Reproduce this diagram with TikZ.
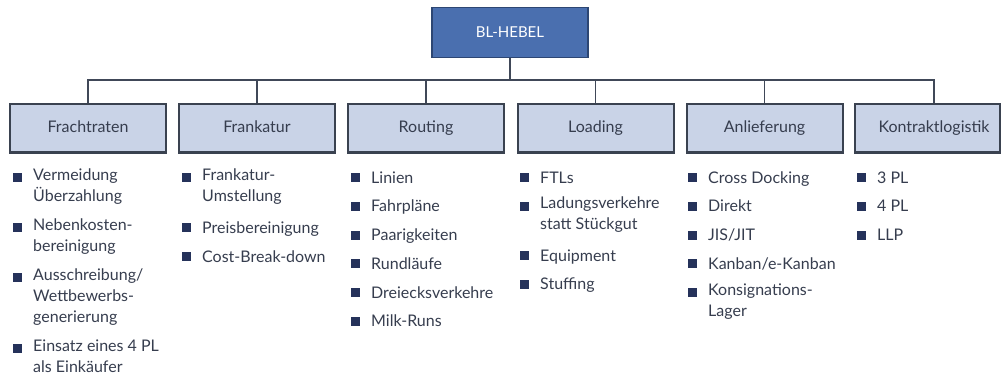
\documentclass[tikz,border=0pt]{standalone}
\usepackage{fontspec}
\setmainfont{Lato}
\usetikzlibrary{calc}
\definecolor{boxfill}{HTML}{C9D3E7}
\definecolor{boxline}{HTML}{3A4250}
\definecolor{topfill}{HTML}{4A6FAF}
\definecolor{topline}{HTML}{2D4673}
\definecolor{txtc}{HTML}{363D4E}
\definecolor{bltc}{HTML}{25325A}
\definecolor{connc}{HTML}{404858}
\tikzset{
  topbox/.style={draw=topline, line width=1.5pt, fill=topfill, minimum width=156pt, minimum height=50pt, text=white, font=\fontsize{15}{17}\selectfont, inner sep=0pt},
  childbox/.style={draw=boxline, line width=2pt, fill=boxfill, minimum width=156pt, minimum height=48pt, text=txtc, font=\fontsize{16}{18}\selectfont, inner sep=0pt, text height=11.5pt, text depth=3.5pt},
  childlabel/.style={text=txtc, font=\fontsize{16}{18}\selectfont, inner sep=0pt, text height=11.5pt, text depth=3.5pt},
  conn/.style={draw=connc, line width=1.3pt},
  itm/.style={anchor=north west, align=left, inner sep=0pt, text=txtc, font=\fontsize{16}{21}\selectfont, execute at begin node=\strut},
  blt/.style={fill=bltc, minimum size=9pt, inner sep=0pt}
}
\newcommand{\bitem}[4]{%
  \node[itm] (#1) at (#2,#3-14.7) {#4};
  \node[blt] (#1b) at ($(#1.north west)+(-16,9.5)$) {};
}
\begin{document}
\begin{tikzpicture}[x=1pt,y=-1pt]
\useasboundingbox (0,0) rectangle (1001,377);
\node[topbox] (top) at (510,32.5) {BL-HEBEL};
\coordinate (bus) at (510,80);
\node[childbox] (c1) at (88,128.5) {Frachtraten};
\node[childbox] (c2) at (257,128.5) {Frankatur};
\node[childbox] (c3) at (426,128.5) {Routing};
\node[childbox] (c4) at (595.5,128.5) {Loading};
\node[childbox] (c5) at (764.5,128.5) {Anlieferung};
\node[childbox, minimum width=145pt] (c6) at (927.5,128.5) {};
\node[childlabel] (c6t) at (934,128.5) {Kontraktlogistik};
\draw[conn] (top.south) -- (bus);
\draw[conn] (c1.north) |- (bus);
\draw[conn] (c2.north) |- (bus);
\draw[conn] (c3.north) |- (bus);
\draw[conn] (c4.north) |- (bus);
\draw[conn] (c5.north) |- (bus);
\draw[conn] (c6t |- c6.north) |- (bus);
% Frachtraten
\bitem{a1}{33}{183}{Vermeidung\\Überzahlung}
\bitem{a2}{33}{233}{Nebenkosten-\\bereinigung}
\bitem{a3}{33}{283}{Ausschreibung/\\Wettbewerbs-\\generierung}
\bitem{a4}{33}{354}{Einsatz eines 4 PL\\als Einkäufer}
% Frankatur
\bitem{b1}{202}{183}{Frankatur-\\Umstellung}
\bitem{b2}{202}{233}{Preisbereinigung}
\bitem{b3}{202}{262}{Cost-Break-down}
% Routing
\bitem{r1}{371}{183}{Linien}
\bitem{r2}{371}{211.7}{Fahrpläne}
\bitem{r3}{371}{240.4}{Paarigkeiten}
\bitem{r4}{371}{269.1}{Rundläufe}
\bitem{r5}{371}{297.8}{Dreiecksverkehre}
\bitem{r6}{371}{326.5}{Milk-Runs}
% Loading
\bitem{l1}{540}{183}{FTLs}
\bitem{l2}{540}{211.7}{Ladungsverkehre\\statt Stückgut}
\bitem{l3}{540}{261}{Equipment}
\bitem{l4}{540}{289.5}{Stuffing}
% Anlieferung
\bitem{n1}{708}{183}{Cross Docking}
\bitem{n2}{708}{211.7}{Direkt}
\bitem{n3}{708}{240.4}{JIS/JIT}
\bitem{n4}{708}{269.1}{Kanban/e-Kanban}
\bitem{n5}{708}{297.8}{Konsignations-\\Lager}
% Kontraktlogistik
\bitem{k1}{877}{183}{3 PL}
\bitem{k2}{877}{211.7}{4 PL}
\bitem{k3}{877}{240.4}{LLP}
\end{tikzpicture}
\end{document}
